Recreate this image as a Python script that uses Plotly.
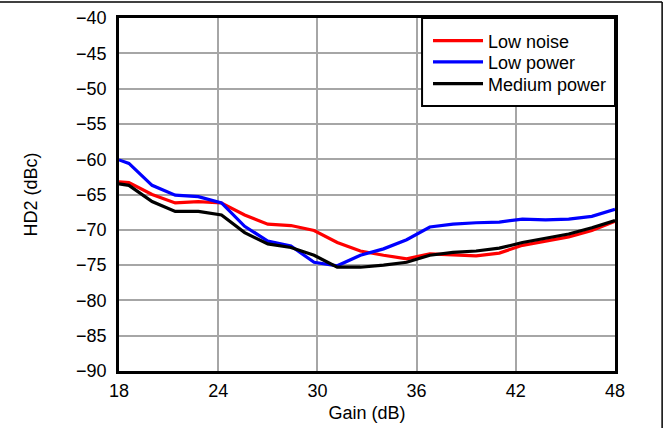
import plotly.graph_objects as go

gain = [18.0, 18.6, 20.0, 21.4, 22.8, 24.2, 25.6, 27.0, 28.4, 29.8, 31.2, 32.6,
        34.0, 35.4, 36.8, 38.2, 39.6, 41.0, 42.4, 43.8, 45.2, 46.6, 48.0]

low_noise = [-63.2, -63.3, -65.0, -66.2, -66.0, -66.2, -67.9, -69.2, -69.4, -70.1, -71.8, -73.0,
             -73.6, -74.1, -73.4, -73.5, -73.7, -73.3, -72.2, -71.6, -71.0, -70.1, -68.8]

low_power = [-60.1, -60.6, -63.7, -65.1, -65.3, -66.2, -69.5, -71.6, -72.3, -74.6, -75.1, -73.6,
             -72.7, -71.4, -69.6, -69.2, -69.0, -68.9, -68.5, -68.6, -68.5, -68.1, -67.1]

medium_power = [-63.5, -63.7, -66.0, -67.4, -67.4, -67.9, -70.4, -72.0, -72.5, -73.6, -75.3, -75.3,
                -75.0, -74.6, -73.6, -73.2, -73.0, -72.6, -71.8, -71.2, -70.6, -69.7, -68.7]

x_ticks = [18, 24, 30, 36, 42, 48]
y_ticks = [-40, -45, -50, -55, -60, -65, -70, -75, -80, -85, -90]

series = [
    ("Low noise", low_noise, "#ff0000"),
    ("Low power", low_power, "#0000ff"),
    ("Medium power", medium_power, "#000000"),
]

font = dict(family="Liberation Sans, Arial, sans-serif", size=18, color="black")

# one legend per row so the row spacing can match the reference
legend_ids = ["legend", "legend2", "legend3"]
legend_rows_y = [0.935, 0.875, 0.813]

fig = go.Figure()
for (name, vals, color), lid in zip(series, legend_ids):
    fig.add_trace(go.Scatter(x=gain, y=vals, mode="lines", name=name, legend=lid,
                             line=dict(color=color, width=3.2)))

legend_common = dict(x=0.623, xanchor="left", yanchor="middle",
                     bgcolor="rgba(0,0,0,0)", borderwidth=0, font=font, itemwidth=50)

fig.update_layout(
    width=668, height=428,
    margin=dict(l=119, r=53, t=18, b=57),
    paper_bgcolor="white", plot_bgcolor="white",
    font=font,
    showlegend=True,
    legend=dict(y=legend_rows_y[0], **legend_common),
    legend2=dict(y=legend_rows_y[1], **legend_common),
    legend3=dict(y=legend_rows_y[2], **legend_common),
    xaxis=dict(range=[18, 48], tickvals=x_ticks, ticktext=[str(v) for v in x_ticks],
               showgrid=True, gridcolor="#a6a6a6", gridwidth=1.5, automargin=False,
               showline=True, linecolor="black", linewidth=2.5, mirror=True,
               zeroline=False, ticks="outside", ticklen=2, tickcolor="rgba(0,0,0,0)",
               title=dict(text="Gain (dB)", standoff=7, font=font)),
    yaxis=dict(range=[-90, -40], tickvals=y_ticks,
               showgrid=True, gridcolor="#a6a6a6", gridwidth=1.5, automargin=False,
               showline=True, linecolor="black", linewidth=2.5, mirror=True,
               zeroline=False, ticks="outside", ticklen=6, tickcolor="rgba(0,0,0,0)",
               title=dict(text="HD2 (dBc)", standoff=34, font=font)),
)

# legend box
fig.add_shape(type="rect", xref="paper", yref="paper", x0=0.611, x1=1.0, y0=0.751, y1=1.0,
              fillcolor="white", line=dict(color="black", width=2), layer="above")

# outer figure frame (top and right edges visible in the reference)
fig.add_shape(type="line", xref="paper", yref="paper", x0=-0.26, x1=1.095, y0=1.045, y1=1.045,
              line=dict(color="black", width=1.5))
fig.add_shape(type="line", xref="paper", yref="paper", x0=1.095, x1=1.095, y0=1.045, y1=-0.2,
              line=dict(color="black", width=1.5))

fig.write_html("out.html", post_script="document.body.style.margin='0';",
               config={"displayModeBar": False})
